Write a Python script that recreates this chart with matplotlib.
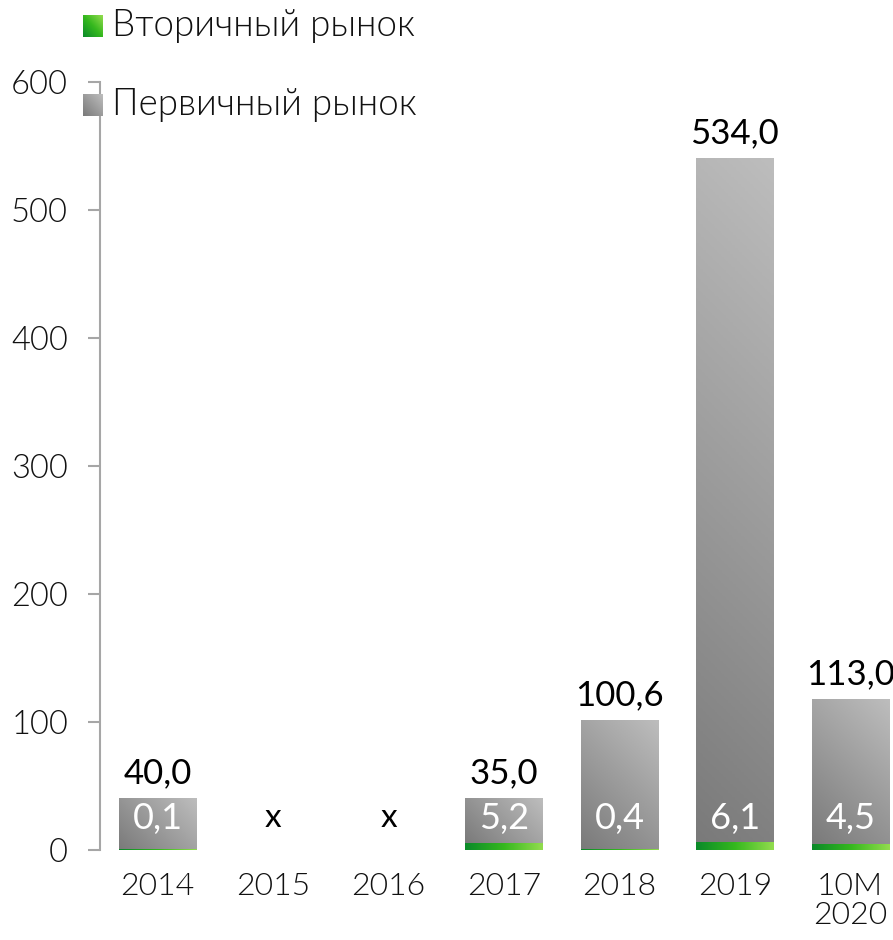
import numpy as np
import matplotlib.pyplot as plt
from matplotlib.colors import LinearSegmentedColormap

plt.switch_backend("Agg")
plt.rcParams["font.family"] = ["Lato", "Open Sans", "DejaVu Sans"]

years = ["2014", "2015", "2016", "2017", "2018", "2019", "10M\n2020"]
secondary = [0.1, np.nan, np.nan, 5.2, 0.4, 6.1, 4.5]
primary = [40.0, np.nan, np.nan, 35.0, 100.6, 534.0, 113.0]
sec_labels = ["0,1", "x", "x", "5,2", "0,4", "6,1", "4,5"]
prim_labels = ["40,0", "", "", "35,0", "100,6", "534,0", "113,0"]

gray_cmap = LinearSegmentedColormap.from_list("g", ["#7a7a7a", "#bdbdbd"])
green_cmap = LinearSegmentedColormap.from_list("gr", ["#0b8a2a", "#35b81e", "#92dc4e"])

fig = plt.figure(figsize=(8.93, 9.40), dpi=100)
ax = fig.add_axes([100 / 893, 90 / 940, 793 / 893, 768 / 940])
ax.set_xlim(-0.5, 6.37)
ax.set_ylim(0, 600)

x = np.arange(len(years))
sec = np.nan_to_num(secondary)
prim = np.nan_to_num(primary)
w = 0.67
b1 = ax.bar(x, sec, w, color="none")
b2 = ax.bar(x, prim, w, bottom=sec, color="none")


def fill(rect, cmap, diagonal=True):
    x0, y0 = rect.get_x(), rect.get_y()
    h = rect.get_height()
    if h <= 0:
        return
    x1, y1 = x0 + rect.get_width(), y0 + h
    # gradient at 45 deg in pixel space, stretched over the bar
    (p0, q0), (p1, q1) = ax.transData.transform([(x0, y0), (x1, y1)])
    W, H = p1 - p0, q1 - q0
    u, v = np.meshgrid(np.linspace(0, 1, 80), np.linspace(0, 1, 200))
    grad = (u * W + v * H) / (W + H) if diagonal else u
    ax.imshow(grad, cmap=cmap, origin="lower", aspect="auto", interpolation="bilinear",
              extent=[x0, x1, y0, y1], zorder=2, vmin=0, vmax=1)


for r in b2:
    fill(r, gray_cmap)
for r in b1:
    fill(r, green_cmap, diagonal=False)

for i in range(len(years)):
    if np.isnan(primary[i]):
        ax.text(x[i], 25, sec_labels[i], ha="center", va="center", fontsize=24,
                color="black", zorder=4)
        continue
    ax.annotate(prim_labels[i], (x[i], sec[i] + prim[i]), xytext=(0, 7),
                textcoords="offset points", ha="center", va="bottom",
                fontsize=25, color="black", zorder=4)
    ax.text(x[i], 25, sec_labels[i], ha="center", va="center", fontsize=26,
            color="white", zorder=4)

ax.set_yticks(range(0, 601, 100))
ax.set_xticks(x)
ax.set_xticklabels(years, linespacing=1.0)
for s in ["top", "right", "bottom"]:
    ax.spines[s].set_visible(False)
ax.spines["left"].set_color("#a6a6a6")
ax.spines["left"].set_linewidth(1.5)
ax.tick_params(axis="y", direction="out", length=9, width=1.5, color="#a6a6a6",
               labelsize=23.5, pad=14)
ax.tick_params(axis="x", length=0, labelsize=23, pad=16)
for t in ax.get_xticklabels() + ax.get_yticklabels():
    t.set_fontweight(300)
    t.set_color("#111111")

# legend with gradient swatches
u, v = np.meshgrid(np.linspace(0, 1, 40), np.linspace(0, 1, 40))
legend_items = [("Вторичный рынок", green_cmap, 26), ("Первичный рынок", gray_cmap, 105)]
for label, cmap, yc in legend_items:
    sw = fig.add_axes([83 / 893, 1 - (yc + 11) / 940, 20 / 893, 22 / 940])
    sw.imshow((u + v) / 2, cmap=cmap, origin="lower", aspect="auto", interpolation="bilinear")
    sw.axis("off")
    fig.text(112 / 893, 1 - yc / 940, label, ha="left", va="center", fontsize=26.5,
             fontweight=300, color="#111111")

fig.savefig("out.png", dpi=100)
